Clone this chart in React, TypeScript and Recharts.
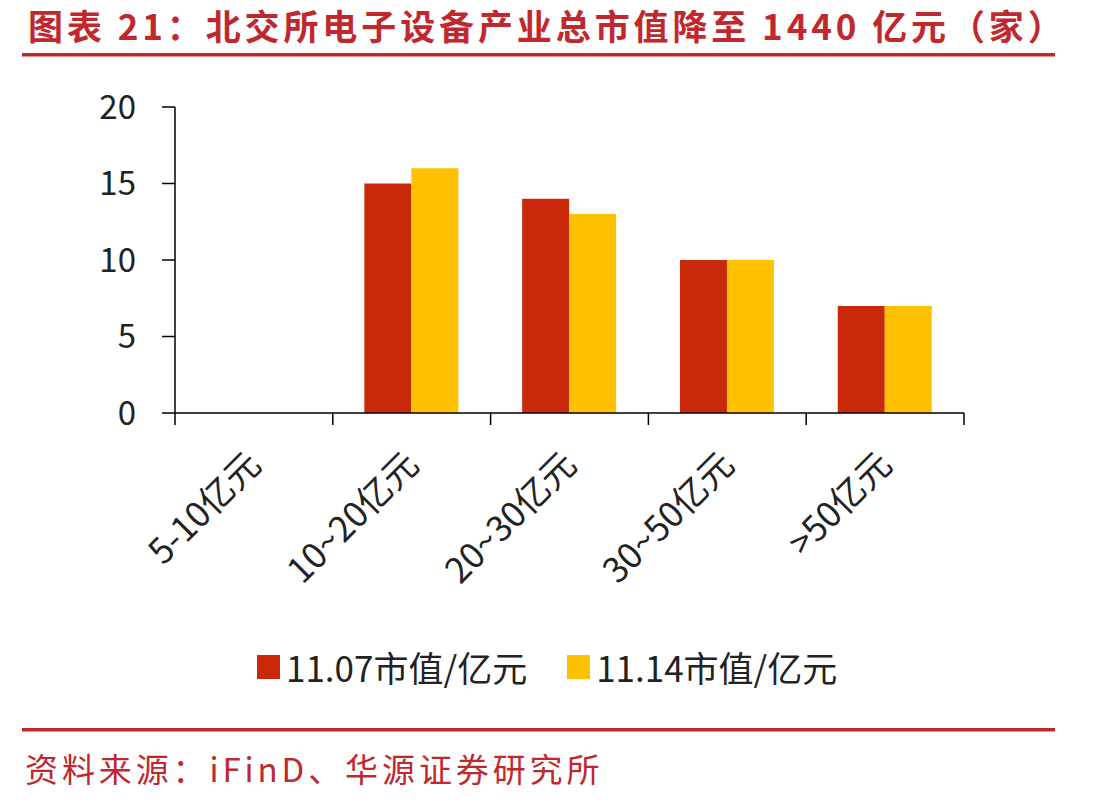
import React from 'react';
import { BarChart, Bar, XAxis, YAxis, Legend } from 'recharts';

// Size buckets of total market value and company counts per date
const categories = ['5-10亿元', '10~20亿元', '20~30亿元', '30~50亿元', '>50亿元'];
const countsNov07 = [0, 15, 14, 10, 7];
const countsNov14 = [0, 16, 13, 10, 7];
const seriesNames = ['11.07市值/亿元', '11.14市值/亿元'];
const yTicks = [0, 5, 10, 15, 20];

const RED = '#C9290A';
const GOLD = '#FFC000';
const BRAND = '#C0282E';
const FONT = '"Noto Sans CJK SC", "Noto Sans", sans-serif';

const data = categories.map((cat, i) => ({
  cat,
  a: countsNov07[i],
  b: countsNov14[i],
}));

// Category label rotated -45°, plus tick marks on the band boundaries
const CategoryTick = (props: any) => {
  const { x, y, payload, visibleTicksCount } = props;
  const half = payload && typeof payload.offset === 'number' ? payload.offset : 0;
  const px = x + 9;
  const py = y + 54;
  const isLast = payload.index === (visibleTicksCount ?? categories.length) - 1;
  return (
    <g>
      {half > 0 && (
        <line x1={x - half} y1={y} x2={x - half} y2={y + 12} stroke="#000" strokeWidth={1.5} />
      )}
      {half > 0 && isLast && (
        <line x1={x + half} y1={y} x2={x + half} y2={y + 12} stroke="#000" strokeWidth={1.5} />
      )}
      <text
        x={px}
        y={py}
        transform={`rotate(-45, ${px}, ${py})`}
        textAnchor="end"
        fontSize={35}
        fontFamily={FONT}
        fill="#222"
      >
        {payload.value}
      </text>
    </g>
  );
};

const LegendContent = (props: any) => {
  const { payload } = props;
  return (
    <div style={{ display: 'flex', alignItems: 'center', fontFamily: FONT }}>
      {(payload || []).map((item: any, i: number) => (
        <div
          key={i}
          style={{ display: 'flex', alignItems: 'center', marginRight: i === 0 ? 40 : 0 }}
        >
          <div style={{ width: 23, height: 24, background: item.color, marginRight: 6 }} />
          <span style={{ fontSize: 35, color: '#222', lineHeight: '40px' }}>{item.value}</span>
        </div>
      ))}
    </div>
  );
};

export default function App() {
  return (
    <div style={{ position: 'absolute', left: 0, top: 0, width: 1113, height: 803, background: '#fff' }}>
      <svg width={1113} height={803} style={{ position: 'absolute', left: 0, top: 0 }}>
        <rect x={22} y={53} width={1033} height={3.5} fill={BRAND} />
        <rect x={22} y={728} width={1033} height={3.5} fill={BRAND} />
        <text
          x={25}
          y={782}
          fontSize={33}
          fontFamily={FONT}
          fill={BRAND}
          letterSpacing={3.9}
        >
          资料来源：iFinD、华源证券研究所
        </text>
      </svg>
      <div
        style={{
          position: 'absolute',
          left: 28,
          top: 5,
          fontSize: 35,
          lineHeight: '40px',
          fontWeight: 700,
          fontFamily: FONT,
          color: BRAND,
          letterSpacing: 3.9,
          whiteSpace: 'nowrap',
        }}
      >
        图表 21：北交所电子设备产业总市值降至 1440 亿元（家）
      </div>
      <div style={{ position: 'absolute', left: 0, top: 0 }}>
        <BarChart
          width={1113}
          height={803}
          data={data}
          margin={{ top: 107, right: 149, bottom: 240, left: 115 }}
          barCategoryGap="20%"
          barGap={0}
        >
          <XAxis
            dataKey="cat"
            height={150}
            interval={0}
            tickSize={0}
            tickMargin={0}
            axisLine={{ stroke: '#000', strokeWidth: 1.5 }}
            tickLine={false}
            tick={<CategoryTick />}
          />
          <YAxis
            width={60}
            domain={[0, 20]}
            ticks={yTicks}
            tickSize={13}
            tickMargin={26}
            axisLine={{ stroke: '#000', strokeWidth: 1.5 }}
            tickLine={{ stroke: '#000', strokeWidth: 1.5 }}
            tick={{ fontSize: 33, fill: '#222', fontFamily: FONT }}
          />
          <Legend
            layout="horizontal"
            verticalAlign="middle"
            align="center"
            content={<LegendContent />}
            wrapperStyle={{ position: 'absolute', top: 647, left: 257, width: 640 }}
          />
          <Bar dataKey="a" name={seriesNames[0]} fill={RED} isAnimationActive={false} />
          <Bar dataKey="b" name={seriesNames[1]} fill={GOLD} isAnimationActive={false} />
        </BarChart>
      </div>
    </div>
  );
}
